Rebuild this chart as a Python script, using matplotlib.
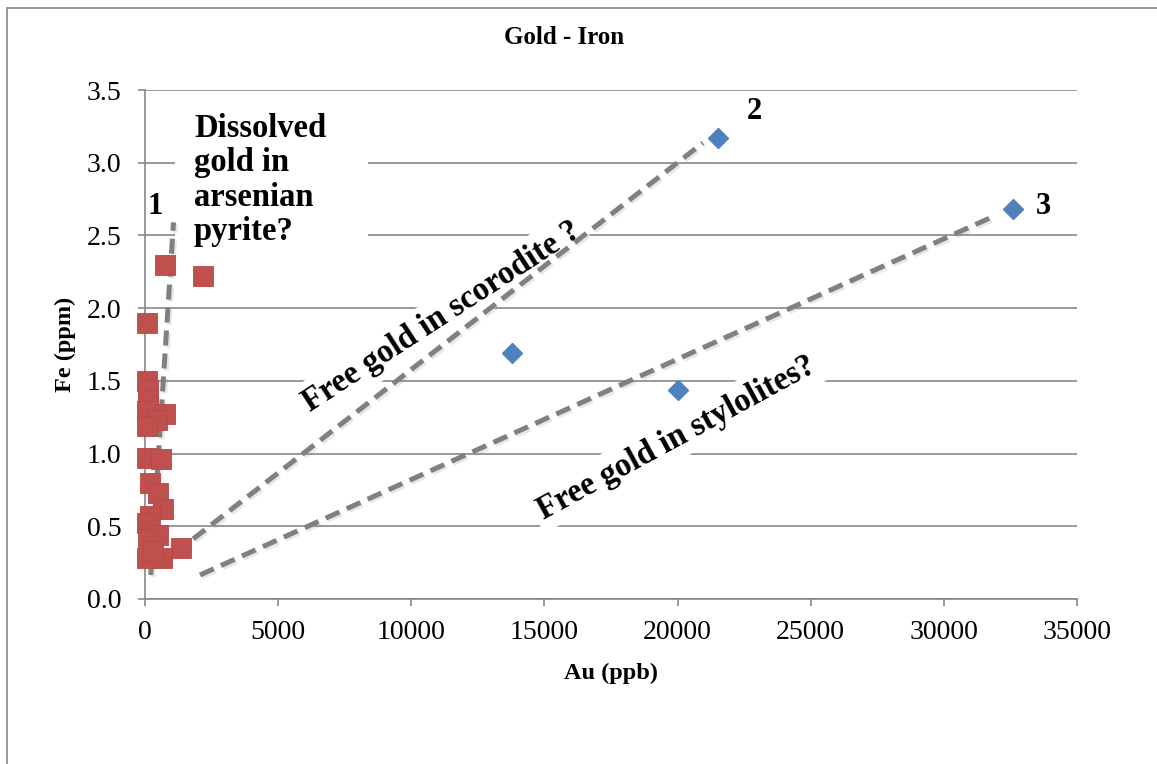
import matplotlib
matplotlib.use("Agg")
import matplotlib.pyplot as plt
from matplotlib.patches import Rectangle
import matplotlib.patheffects as pe

# Samples plotted as red squares (Au in ppb, Fe in ppm)
au_red = [740, 2170, 90, 90, 120, 110, 90, 750, 440, 90, 90, 590, 190, 480,
          690, 190, 90, 500, 120, 1340, 630, 90, 300]
fe_red = [2.30, 2.22, 1.90, 1.50, 1.44, 1.37, 1.29, 1.27, 1.23, 1.19, 0.97,
          0.96, 0.80, 0.73, 0.62, 0.57, 0.52, 0.44, 0.41, 0.35, 0.28, 0.28, 0.33]

# Samples plotted as blue diamonds
au_blue = [13800, 20000, 21500, 32600]
fe_blue = [1.69, 1.44, 3.17, 2.68]

# Trend lines: (Au start, Au end), (Fe start, Fe end)
trend_au = [(215, 1070), (1127, 20950), (2065, 31730)]
trend_fe = [(0.165, 2.59), (0.316, 3.136), (0.165, 2.62)]
trend_names = ["1", "2", "3"]

x_ticks = [0, 5000, 10000, 15000, 20000, 25000, 30000, 35000]
y_ticks = [0.0, 0.5, 1.0, 1.5, 2.0, 2.5, 3.0, 3.5]

W, H = 1157, 764
SERIF = ["Liberation Serif", "DejaVu Serif"]
GRID = "#878787"
RED = "#C0504D"
BLUE = "#4F81BD"

plt.rcParams["font.family"] = SERIF

fig = plt.figure(figsize=(W / 100, H / 100), dpi=100)
fig.patch.set_facecolor("white")

# Chart-area frame
fig.patches.append(Rectangle((7 / W, 0 - 0.1), 1.2, (H - 8) / H + 0.1,
                             transform=fig.transFigure, fill=False,
                             edgecolor=GRID, linewidth=1.2))

ax = fig.add_axes([145 / W, (H - 599) / H, 932 / W, 509 / H])
ax.set_xlim(x_ticks[0], x_ticks[-1])
ax.set_ylim(y_ticks[0], y_ticks[-1])
ax.set_xticks(x_ticks)
ax.set_yticks(y_ticks)
ax.set_yticklabels([f"{v:.1f}" for v in y_ticks])
ax.set_xticklabels([str(v) for v in x_ticks])

for side in ("top", "right"):
    ax.spines[side].set_visible(False)
for side in ("left", "bottom"):
    ax.spines[side].set_color(GRID)
    ax.spines[side].set_linewidth(1.2)

ax.tick_params(axis="both", direction="out", length=5, width=1.2,
               color=GRID, labelsize=20, labelcolor="black")
ax.tick_params(axis="y", pad=12)
ax.tick_params(axis="x", pad=10)

ax.yaxis.grid(True, color=GRID, linewidth=1.2, zorder=0)
ax.set_axisbelow(True)

ax.set_xlabel("Au (ppb)", fontsize=17.5, fontweight="bold")
ax.xaxis.set_label_coords(0.5, (599 - 673) / 509)
ax.xaxis.label.set_va("center")
ax.set_ylabel("Fe (ppm)", fontsize=17.5, fontweight="bold")
ax.yaxis.set_label_coords((65 - 145) / 932, 0.5)
ax.yaxis.label.set_va("center")

fig.text(564 / W, 1 - 38 / H, "Gold - Iron", ha="center", va="center",
         fontsize=18, fontweight="bold")

# White box behind the multi-line note
ax.add_patch(Rectangle((1127, 2.33), 7250, 1.12, facecolor="white",
                       edgecolor="none", zorder=1))
ax.text(1840, 3.34, "Dissolved\ngold in\narsenian\npyrite?", ha="left",
        va="top", fontsize=23.5, fontweight="bold", linespacing=1.13,
        zorder=2)

shadow = [pe.SimpleLineShadow(offset=(1.5, -1.5), shadow_color="#888888",
                              alpha=0.2), pe.Normal()]
for (xa, xb), (ya, yb) in zip(trend_au, trend_fe):
    ax.plot([xa, xb], [ya, yb], color="#808080", linewidth=3.6,
            linestyle=(0, (3.0, 1.6)), dash_capstyle="butt",
            path_effects=shadow, zorder=3)

label_pos = [(375, 2.70), (22870, 3.35), (33720, 2.70)]
for name, (lx, ly) in zip(trend_names, label_pos):
    ax.text(lx, ly, name, ha="center", va="center", fontsize=22,
            fontweight="bold", zorder=4)

box = dict(boxstyle="square,pad=0.18", facecolor="white", edgecolor="none")
ax.text(11150, 1.94, "Free gold in scorodite ?", rotation=33,
        rotation_mode="anchor", ha="center", va="center", fontsize=23.5,
        fontweight="bold", bbox=box, zorder=2)
ax.text(19950, 1.11, "Free gold in stylolites?", rotation=28.5,
        rotation_mode="anchor", ha="center", va="center", fontsize=23.5,
        fontweight="bold", bbox=box, zorder=2)

ax.plot(au_red, fe_red, linestyle="none", marker="s", markersize=14,
        markerfacecolor=RED, markeredgecolor="#B8474A", markeredgewidth=0.6,
        zorder=5, clip_on=False)
ax.plot(au_blue, fe_blue, linestyle="none", marker="D", markersize=10,
        markerfacecolor=BLUE, markeredgecolor=BLUE, zorder=5)

fig.savefig("out.png", dpi=100, facecolor="white")
